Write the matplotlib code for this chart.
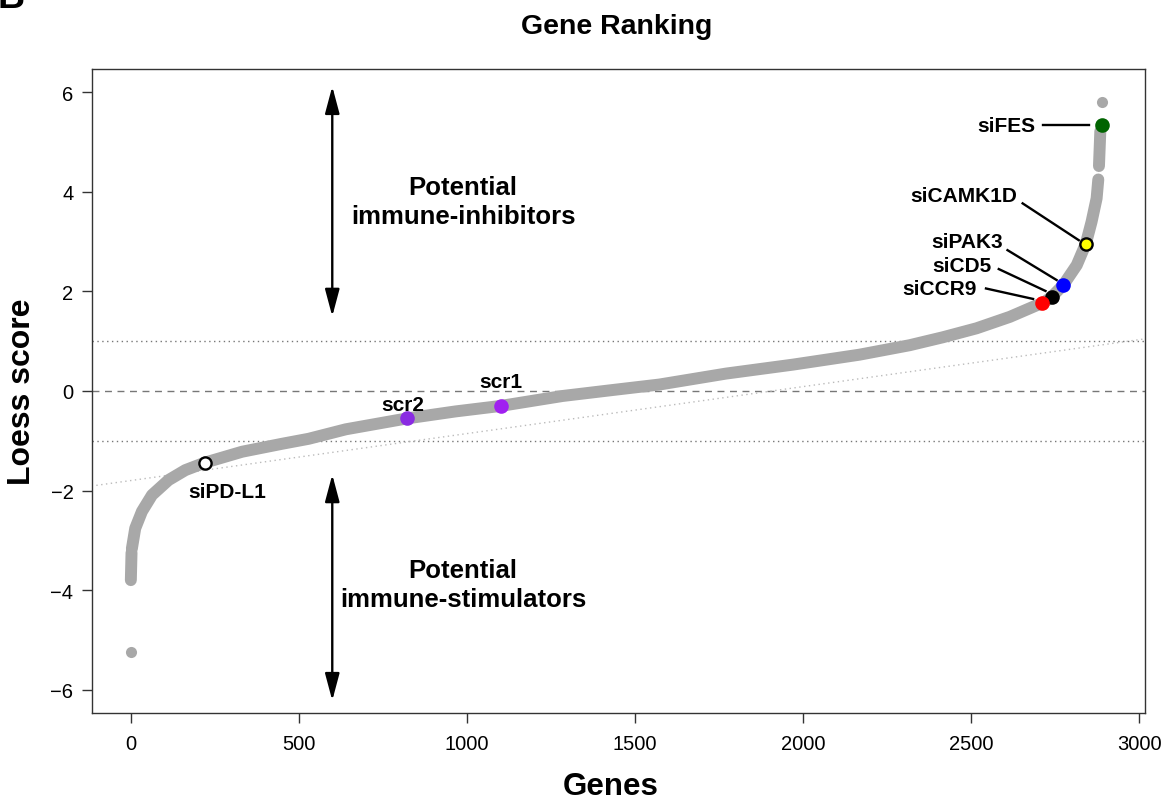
import matplotlib
matplotlib.use("Agg")
import matplotlib.pyplot as plt

plt.rcParams['font.family'] = ['Liberation Sans', 'DejaVu Sans']

# ---------------- data ----------------
# main body of the ranked curve (gene rank, loess score)
curve_rank = [4, 14, 34, 64, 113, 163, 221, 332, 451, 530, 640, 823, 967, 1101,
              1285, 1434, 1573, 1771, 1970, 2168, 2317, 2416, 2516, 2615, 2694,
              2712, 2739, 2774, 2814, 2841, 2858, 2873, 2878]
curve_score = [-3.17, -2.76, -2.42, -2.09, -1.79, -1.59, -1.44, -1.22, -1.06, -0.96,
               -0.77, -0.55, -0.41, -0.30, -0.10, 0.02, 0.13, 0.35, 0.53, 0.73,
               0.92, 1.08, 1.26, 1.49, 1.72, 1.76, 1.89, 2.13, 2.53, 2.96, 3.40,
               3.87, 4.25]
# short separated pieces at both tails
low_tail_rank = [1, 3]
low_tail_score = [-3.80, -3.25]
high_tail_rank = [2880, 2884]
high_tail_score = [4.52, 5.22]
# isolated extreme genes
outlier_rank = [0, 2890]
outlier_score = [-5.24, 5.80]

# highlighted genes
hl_names = ['siFES', 'siCAMK1D', 'siPAK3', 'siCD5', 'siCCR9', 'scr1', 'scr2', 'siPD-L1']
hl_rank = [2889, 2841, 2774, 2739, 2712, 1101, 823, 221]
hl_score = [5.35, 2.96, 2.13, 1.89, 1.76, -0.30, -0.55, -1.44]
hl_face = ['#006400', '#FFFF00', '#0000FF', '#000000', '#FF0000', '#A020F0', '#8A2BE2', '#FFFFFF']
hl_edge = ['#006400', '#000000', '#0000FF', '#000000', '#FF0000', '#A020F0', '#8A2BE2', '#000000']

# label text anchors (data coords) and leader lines
lab_x = [2692, 2636, 2594, 2561, 2517, 1101, 810, 289]
lab_y = [5.34, 3.93, 3.01, 2.53, 2.06, 0.20, -0.27, -2.01]
lab_ha = ['right', 'right', 'right', 'right', 'right', 'center', 'center', 'center']
lead_x0 = [2715, 2653, 2608, 2582, 2544]
lead_y0 = [5.34, 3.77, 2.83, 2.45, 2.06]
lead_x1 = [2850, 2820, 2754, 2721, 2684]
lead_y1 = [5.34, 3.03, 2.23, 2.01, 1.85]

x_ticks = [0, 500, 1000, 1500, 2000, 2500, 3000]
y_ticks = [-6, -4, -2, 0, 2, 4, 6]

# ---------------- figure ----------------
W, H = 1169, 803
fig = plt.figure(figsize=(W / 100, H / 100), dpi=100)
ax = fig.add_axes([91.5 / W, 1 - 714 / H, (1144.7 - 91.5) / W, (714 - 70) / H])
ax.set_xlim(-116, 3016)
ax.set_ylim(-6.47, 6.47)

# reference lines
ax.axhline(1, color='#777777', lw=1.0, ls=(0, (1, 2.5)), zorder=1)
ax.axhline(-1, color='#777777', lw=1.0, ls=(0, (1, 2.5)), zorder=1)
ax.axhline(0, color='#777777', lw=1.0, ls=(0, (5, 4)), zorder=1)
ax.axline((0, -1.80), slope=0.000944, color='#bbbbbb', lw=1.0, ls=(0, (1, 2.5)), zorder=1)

grey = '#a8a8a8'
band_lw = 8.6
for xs, ys in [(curve_rank, curve_score), (low_tail_rank, low_tail_score),
               (high_tail_rank, high_tail_score)]:
    ax.plot(xs, ys, color=grey, lw=band_lw, solid_capstyle='round',
            solid_joinstyle='round', zorder=2)
ax.plot(outlier_rank, outlier_score, 'o', color=grey, ms=8.0, mec='none', zorder=2)

# highlighted genes
for r, s, fc, ec in zip(hl_rank, hl_score, hl_face, hl_edge):
    ax.plot([r], [s], 'o', ms=8.8, mfc=fc, mec=ec, mew=1.7, zorder=4)

for name, x, y, ha in zip(hl_names, lab_x, lab_y, lab_ha):
    ax.text(x, y, name, ha=ha, va='center', fontsize=15, fontweight='bold', zorder=5)
for x0, y0, x1, y1 in zip(lead_x0, lead_y0, lead_x1, lead_y1):
    ax.plot([x0, x1], [y0, y1], color='black', lw=1.7, zorder=3)

# arrows
arrow_kw = dict(arrowstyle='<|-|>,head_length=0.75,head_width=0.2', color='black',
                lw=1.7, mutation_scale=22, shrinkA=0, shrinkB=0)
ax.annotate('', xy=(600, 6.12), xytext=(600, 1.50), arrowprops=arrow_kw)
ax.annotate('', xy=(600, -1.68), xytext=(600, -6.22), arrowprops=arrow_kw)
ax.text(989, 3.81, 'Potential\nimmune-inhibitors', ha='center', va='center',
        fontsize=18.5, fontweight='bold', linespacing=1.25)
ax.text(989, -3.89, 'Potential\nimmune-stimulators', ha='center', va='center',
        fontsize=18.5, fontweight='bold', linespacing=1.25)

# axes styling
ax.set_xticks(x_ticks)
ax.set_xticklabels([str(t) for t in x_ticks])
ax.set_yticks(y_ticks)
ax.set_yticklabels([str(t).replace('-', '\u2212') for t in y_ticks])
ax.tick_params(direction='out', length=7, width=1.0, labelsize=14.5, color='#333333')
ax.tick_params(axis='x', pad=8)
ax.tick_params(axis='y', pad=6)
for sp in ax.spines.values():
    sp.set_linewidth(1.0)
    sp.set_color('#333333')

fig.text(617 / W, 1 - 27 / H, 'Gene Ranking', ha='center', va='center',
         fontsize=20.5, fontweight='bold')
fig.text(611 / W, 1 - 787 / H, 'Genes', ha='center', va='center',
         fontsize=22.5, fontweight='bold')
fig.text(22 / W, 1 - 392 / H, 'Loess score', ha='center', va='center',
         rotation=90, fontsize=23, fontweight='bold')
fig.text(-2 / W, 1 - 8 / H, 'B', ha='left', va='baseline', fontsize=27, fontweight='bold')

fig.savefig('out.png', dpi=100)
